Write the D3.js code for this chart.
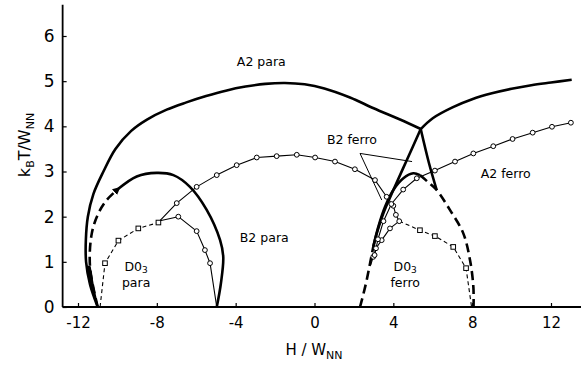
<!DOCTYPE html>
<html>
<head>
<meta charset="utf-8">
<script src="https://cdn.jsdelivr.net/npm/d3@7"></script>
<style>
  html, body { margin: 0; padding: 0; background: #fff; }
  svg { display: block; }
  text { font-family: "DejaVu Sans", "Liberation Sans", sans-serif; fill: #000; }
</style>
</head>
<body>
<svg id="chart" width="581" height="372"></svg>
<script>
// Phase diagram of a bcc binary alloy with magnetic order: field H/W_NN vs temperature kB*T/W_NN.
// Each curve is a list of [H/W_NN, kB T/W_NN] points.

const xTicks = [-12, -8, -4, 0, 4, 8, 12];
const yTicks = [0, 1, 2, 3, 4, 5, 6];

// A2 para boundary (thick solid), left branch up to the triple point
const a2ParaLeft = [
  [-11.0, 0], [-11.39, 0.5], [-11.59, 1.0], [-11.6, 1.5], [-11.5, 2.0], [-11.22, 2.5],
  [-10.71, 3.0], [-10.1, 3.5], [-9.3, 3.9], [-8.5, 4.15], [-7.5, 4.37], [-6.5, 4.53],
  [-5.5, 4.67], [-4.5, 4.79], [-3.5, 4.88], [-2.5, 4.94], [-1.5, 4.96], [-0.5, 4.93],
  [0.5, 4.84], [1.8, 4.64], [3.0, 4.4], [4.34, 4.15], [5.39, 3.94]
];
// A2 para / A2 ferro boundary (thick solid), right of the triple point
const a2ParaRight = [
  [5.39, 3.94], [6.0, 4.18], [7.0, 4.42], [8.0, 4.6], [9.0, 4.73], [10.0, 4.83],
  [11.0, 4.91], [12.0, 4.97], [13.05, 5.03]
];
// Lines leaving the triple point downwards (thick solid)
const tripleDownLeft = [[5.39, 3.94], [4.68, 3.25], [4.0, 2.59], [3.49, 2.07], [3.16, 1.63], [2.98, 1.33]];
const tripleDownRight = [[5.39, 3.94], [5.8, 3.2], [6.2, 2.59]];

// Left (para) DO3 / B2 hump
const humpLeftDashed = [[-11.0, 0], [-11.39, 0.89], [-11.3, 1.63], [-10.97, 2.07], [-10.54, 2.37], [-10.0, 2.6]];
const humpLeftSolid = [
  [-10.0, 2.6], [-9.02, 2.89], [-8.01, 2.97], [-7.16, 2.92], [-6.32, 2.66], [-5.47, 2.15],
  [-4.79, 1.48], [-4.63, 1.11], [-4.75, 0.52], [-4.96, 0]
];
// Narrow two-phase lens where the A2 para and DO3 boundaries nearly meet at low T
const bottomLens = [[-11.0, 0], [-11.39, 0.5], [-11.55, 0.9], [-11.39, 0.89], [-11.22, 0.45], [-11.0, 0]];

// Right (ferro) hump
const humpRightDashedLow = [[2.31, 0], [2.6, 0.5], [2.82, 0.97], [2.98, 1.33]];
const humpRightSolid = [[2.98, 1.33], [3.24, 1.78], [3.58, 2.22], [4.0, 2.59], [4.51, 2.85], [5.01, 2.96], [5.35, 2.92]];
const humpRightDashed = [
  [5.35, 2.92], [5.8, 2.75], [6.2, 2.59], [6.87, 2.15], [7.55, 1.63], [7.89, 1.04], [8.06, 0.45], [8.07, 0]
];

// DO3 para boundary: dashed with squares, then solid with circles
const do3ParaDashed = [[-10.88, 0], [-10.63, 0.97], [-9.95, 1.47], [-8.94, 1.74], [-7.92, 1.87], [-7.84, 1.91]];
const do3ParaSquares = [[-10.63, 0.97], [-9.95, 1.47], [-8.94, 1.74], [-7.92, 1.87]];
const do3ParaSolid = [[-7.84, 1.91], [-6.91, 2.0], [-5.98, 1.68], [-5.56, 1.26], [-5.3, 0.97], [-4.96, 0]];
const do3ParaCircles = [[-6.91, 2.0], [-5.98, 1.68], [-5.56, 1.26], [-5.3, 0.97]];

// B2 order-disorder line (thin, circles)
const b2Line = [
  [-7.84, 1.91], [-6.99, 2.3], [-5.98, 2.66], [-4.96, 2.92], [-3.95, 3.14], [-2.93, 3.31],
  [-1.92, 3.34], [-0.9, 3.37], [0.03, 3.31], [1.04, 3.22], [2.05, 3.05], [3.07, 2.81],
  [3.66, 2.44], [4.0, 2.24], [4.13, 2.04], [4.3, 1.9]
];
const b2Circles = b2Line.slice(1);

// DO3 ferro boundary: circles on the left, dashed with squares on the right
const do3FerroLeft = [[4.3, 1.9], [3.83, 1.74], [3.41, 1.48], [3.12, 1.3], [2.98, 1.11], [2.85, 0.93]];
const do3FerroLeftCircles = [[3.83, 1.74], [3.41, 1.48], [3.12, 1.3], [2.98, 1.11]];
const do3FerroDashed = [[4.3, 1.9], [5.35, 1.7], [6.11, 1.57], [7.04, 1.33], [7.69, 0.86], [7.97, 0]];
const do3FerroSquares = [[5.35, 1.7], [6.11, 1.57], [7.04, 1.33], [7.69, 0.86]];

// Curie line (thin, circles)
const curieLine = [
  [13.01, 4.08], [12.05, 3.99], [11.07, 3.86], [10.05, 3.72], [9.07, 3.56], [8.06, 3.4],
  [7.13, 3.22], [6.11, 3.02], [5.19, 2.85], [4.5, 2.6], [3.9, 2.28], [3.5, 1.9],
  [3.22, 1.5], [3.05, 1.15]
];

// Pointer lines for the "B2 ferro" label
const pointerApex = [2.31, 3.4];
const pointerEnds = [[4.95, 3.22], [3.41, 2.37]];

// Region labels
const regionLabels = [
  { text: "A2 para", h: -2.7, t: 5.33 },
  { text: "B2 ferro", h: 1.9, t: 3.6 },
  { text: "A2 ferro", h: 9.7, t: 2.86 },
  { text: "B2 para", h: -2.55, t: 1.45 }
];

const svg = d3.select("#chart");
const x = d3.scaleLinear().domain([-12, 12]).range([78, 551]);
const y = d3.scaleLinear().domain([0, 6]).range([307, 36]);

const x0 = x(-12.78); // left end of the horizontal axis
const yTop = y(6.69);

// Arrowhead marking the end of the dashed DO3 boundary
svg.append("defs").append("marker")
  .attr("id", "arrow").attr("viewBox", "0 0 10 10").attr("refX", 5).attr("refY", 5)
  .attr("markerWidth", 3).attr("markerHeight", 3).attr("orient", "auto")
  .append("path").attr("d", "M0,0L10,5L0,10Z").attr("fill", "#000");

// Axes
const gx = svg.append("g").attr("transform", `translate(0,${y(0)})`)
  .call(d3.axisBottom(x).tickValues(xTicks).tickSizeInner(-4).tickSizeOuter(0).tickPadding(10)
    .tickFormat(d => d < 0 ? "-" + Math.abs(d) : String(d)));
gx.select(".domain").remove();
gx.selectAll("text").attr("font-size", 15).attr("font-family", "DejaVu Sans, sans-serif").attr("fill", "#000");
gx.selectAll("line").attr("stroke", "#000").attr("stroke-width", 1.2);

const gy = svg.append("g").attr("transform", `translate(${x0},0)`)
  .call(d3.axisLeft(y).tickValues(yTicks).tickSizeInner(-4).tickSizeOuter(0).tickPadding(8)
    .tickFormat(d3.format("d")));
gy.select(".domain").remove();
gy.selectAll("text").attr("font-size", 17).attr("font-family", "DejaVu Sans, sans-serif").attr("fill", "#000");
gy.selectAll("line").attr("stroke", "#000").attr("stroke-width", 1.2);

svg.append("line").attr("x1", x0).attr("x2", 581).attr("y1", y(0)).attr("y2", y(0))
  .attr("stroke", "#000").attr("stroke-width", 1.8);
svg.append("line").attr("x1", x0).attr("x2", x0).attr("y1", yTop).attr("y2", y(0))
  .attr("stroke", "#000").attr("stroke-width", 1.8);

// Axis titles
const xt = svg.append("text").attr("x", 314).attr("y", 355).attr("text-anchor", "middle").attr("font-size", 15);
xt.append("tspan").text("H / W");
xt.append("tspan").attr("font-size", 11).attr("dy", 4).text("NN");

const yt = svg.append("text").attr("transform", "translate(30,145) rotate(-90)")
  .attr("text-anchor", "middle").attr("font-size", 16);
yt.append("tspan").text("k");
yt.append("tspan").attr("font-size", 11).attr("dy", 4).text("B");
yt.append("tspan").attr("dy", -4).text("T/W");
yt.append("tspan").attr("font-size", 11).attr("dy", 4).text("NN");

// Curves
const smooth = d3.line().x(d => x(d[0])).y(d => y(d[1])).curve(d3.curveCatmullRom.alpha(0.5));
const straight = d3.line().x(d => x(d[0])).y(d => y(d[1]));

function path(data, gen, width, dash) {
  return svg.append("path").attr("d", gen(data)).attr("fill", "none").attr("stroke", "#000")
    .attr("stroke-width", width).attr("stroke-linejoin", "round")
    .attr("stroke-dasharray", dash || null);
}

const THICK = 2.6, THIN = 1.1;
svg.append("path").attr("d", straight(bottomLens)).attr("fill", "#000").attr("stroke", "#000")
  .attr("stroke-width", 1.5).attr("stroke-linejoin", "round");
path(a2ParaLeft, smooth, THICK);
path(a2ParaRight, smooth, THICK);
path(tripleDownLeft, smooth, THICK);
path(tripleDownRight, smooth, THICK);
path(humpLeftDashed, smooth, THICK, "9,5").attr("marker-end", "url(#arrow)");
path(humpLeftSolid, smooth, THICK);
path(humpRightDashedLow, smooth, THICK, "9,5");
path(humpRightSolid, smooth, THICK);
path(humpRightDashed, smooth, THICK, "9,5");

path(do3ParaDashed, straight, THIN, "4,3");
path(do3ParaSolid, straight, THIN);
path(b2Line, straight, THIN);
path(do3FerroLeft, straight, THIN);
path(do3FerroDashed, straight, THIN, "4,3");
path(curieLine, straight, THIN);

// Pointer lines
pointerEnds.forEach(e => {
  svg.append("line").attr("x1", x(pointerApex[0])).attr("y1", y(pointerApex[1]))
    .attr("x2", x(e[0])).attr("y2", y(e[1])).attr("stroke", "#000").attr("stroke-width", 1);
});

// Markers
function circles(data) {
  svg.append("g").selectAll("circle").data(data).join("circle")
    .attr("cx", d => x(d[0])).attr("cy", d => y(d[1])).attr("r", 2.4)
    .attr("fill", "#fff").attr("stroke", "#000").attr("stroke-width", 1);
}
function squares(data) {
  const s = 4.6;
  svg.append("g").selectAll("rect").data(data).join("rect")
    .attr("x", d => x(d[0]) - s / 2).attr("y", d => y(d[1]) - s / 2).attr("width", s).attr("height", s)
    .attr("fill", "#fff").attr("stroke", "#000").attr("stroke-width", 1);
}
circles(do3ParaCircles);
circles(b2Circles);
circles(do3FerroLeftCircles);
circles(curieLine);
squares(do3ParaSquares);
squares(do3FerroSquares);

// Region labels
regionLabels.forEach(l => {
  svg.append("text").attr("x", x(l.h)).attr("y", y(l.t)).attr("text-anchor", "middle")
    .attr("font-size", 12.5).text(l.text);
});
function do3Label(h, t, second) {
  const g = svg.append("text").attr("x", x(h)).attr("y", y(t)).attr("text-anchor", "middle").attr("font-size", 12.5);
  g.append("tspan").text("D0");
  g.append("tspan").attr("font-size", 9).attr("dy", 2.5).text("3");
  svg.append("text").attr("x", x(h)).attr("y", y(t) + 16).attr("text-anchor", "middle")
    .attr("font-size", 12.5).text(second);
}
do3Label(-9.05, 0.8, "para");
do3Label(4.6, 0.8, "ferro");
</script>
</body>
</html>
